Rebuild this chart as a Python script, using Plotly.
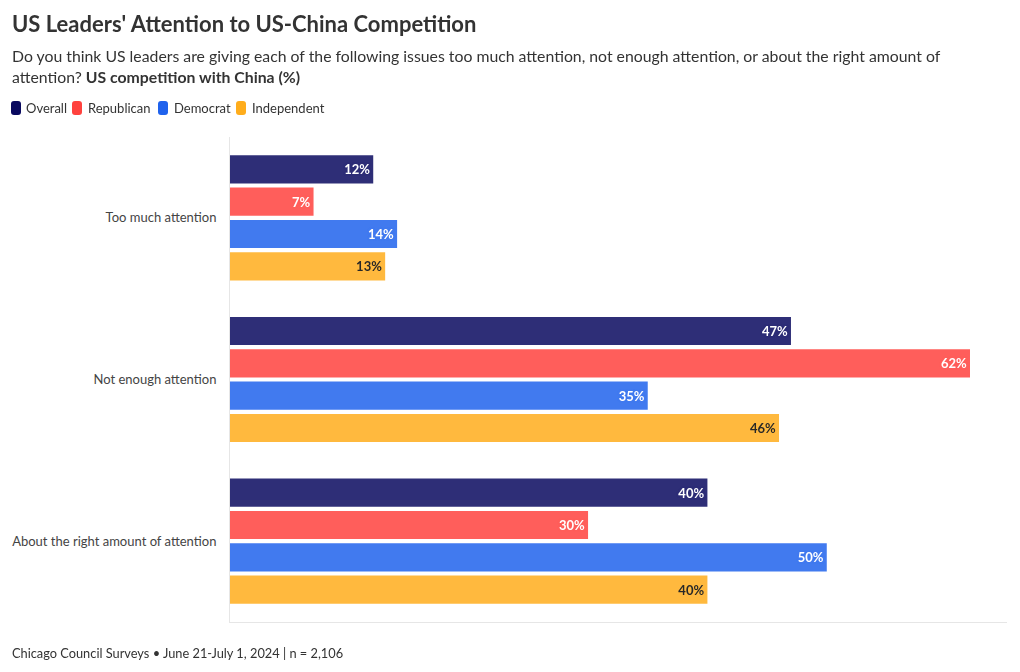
import plotly.graph_objects as go

categories = ["Too much attention", "Not enough attention", "About the right amount of attention"]
series_names = ["Overall", "Republican", "Democrat", "Independent"]
overall = [12, 47, 40]
republican = [7, 62, 30]
democrat = [14, 35, 50]
independent = [13, 46, 40]

values = [overall, republican, democrat, independent]
colors = ["#09095f", "#ff423e", "#1f62ed", "#ffad1c"]
text_colors = ["#ffffff", "#ffffff", "#ffffff", "#000000"]
shadows = ["0px 0px 2px #09095f, 0px 0px 2px #09095f",
           "0px 0px 2px #ff423e, 0px 0px 2px #ff423e",
           "0px 0px 2px #1f62ed, 0px 0px 2px #1f62ed",
           "none"]

FONT = "Lato"
OFF = 8  # page body offset

W, H = 1020 - OFF, 672 - OFF
L, T = 230 - OFF, 137 - OFF
R = W - (1007 - OFF)
B = H - (622 - OFF)
pw, ph = W - L - R, H - T - B

def fx(px):
    return (px - OFF - L) / pw

def fy(py):
    return 1 - (py - OFF - T) / ph

fig = go.Figure()
for name, vals, col, tc, sh in zip(series_names, values, colors, text_colors, shadows):
    fig.add_trace(go.Bar(
        y=categories, x=vals, name=name, orientation="h",
        marker=dict(color=col, line=dict(width=0)), opacity=0.85,
        text=[f"{v}%" for v in vals], textposition="inside", insidetextanchor="end",
        textfont=dict(family=FONT, size=13, color=tc, weight="bold", shadow=sh),
        constraintext="none", cliponaxis=False, hoverinfo="skip", showlegend=False,
    ))

# custom legend (swatch left px, text left px)
legend_pos = [(11, 24), (72, 86), (158, 172), (236, 250)]
shapes = []
annotations = []
for (sx, tx), name, col in zip(legend_pos, series_names, colors):
    x0, x1, y0, y1, r = sx, sx + 10, 101, 115, 3
    path = (f"M {fx(x0 + r)},{fy(y0)} L {fx(x1 - r)},{fy(y0)} Q {fx(x1)},{fy(y0)} {fx(x1)},{fy(y0 + r)} "
            f"L {fx(x1)},{fy(y1 - r)} Q {fx(x1)},{fy(y1)} {fx(x1 - r)},{fy(y1)} "
            f"L {fx(x0 + r)},{fy(y1)} Q {fx(x0)},{fy(y1)} {fx(x0)},{fy(y1 - r)} "
            f"L {fx(x0)},{fy(y0 + r)} Q {fx(x0)},{fy(y0)} {fx(x0 + r)},{fy(y0)} Z")
    shapes.append(dict(type="path", path=path, xref="paper", yref="paper",
                       fillcolor=col, line=dict(width=0)))
    annotations.append(dict(text=name, xref="paper", yref="paper", x=fx(tx), y=fy(108),
                            xanchor="left", yanchor="middle", showarrow=False,
                            font=dict(family=FONT, size=13, color="#333333")))

annotations += [
    dict(text="<b>US Leaders' Attention to US-China Competition</b>",
         xref="paper", yref="paper", x=fx(10), y=fy(24),
         xanchor="left", yanchor="middle", showarrow=False,
         font=dict(family=FONT, size=22, color="#333333")),
    dict(text="Do you think US leaders are giving each of the following issues too much attention, not enough attention, or about the right amount of<br>attention? <b>US competition with China (%)</b>",
         xref="paper", yref="paper", x=fx(10), y=fy(44),
         xanchor="left", yanchor="top", align="left", showarrow=False,
         font=dict(family=FONT, size=15.8, color="#333333")),
    dict(text="Chicago Council Surveys • June 21-July 1, 2024 | n = 2,106",
         xref="paper", yref="paper", x=fx(10), y=fy(653),
         xanchor="left", yanchor="middle", align="left", showarrow=False,
         font=dict(family=FONT, size=12.8, color="#333333")),
]

fig.update_layout(
    width=W, height=H,
    margin=dict(l=L, r=R, t=T, b=B, autoexpand=False),
    paper_bgcolor="white", plot_bgcolor="white",
    barmode="group", bargap=0.2, bargroupgap=0.13,
    font=dict(family=FONT, color="#333333"),
    showlegend=False,
    xaxis=dict(range=[0, 65.1], showgrid=False, zeroline=False, showticklabels=False,
               showline=True, linecolor="#e6e6e6", linewidth=1, ticks=""),
    yaxis=dict(autorange="reversed", showgrid=False, zeroline=False, showline=True,
               linecolor="#e6e6e6", linewidth=1, ticks="", ticklabelstandoff=10,
               tickfont=dict(family=FONT, size=13, color="#444444")),
    shapes=shapes,
    annotations=annotations,
)

fig.write_html("out.html")
